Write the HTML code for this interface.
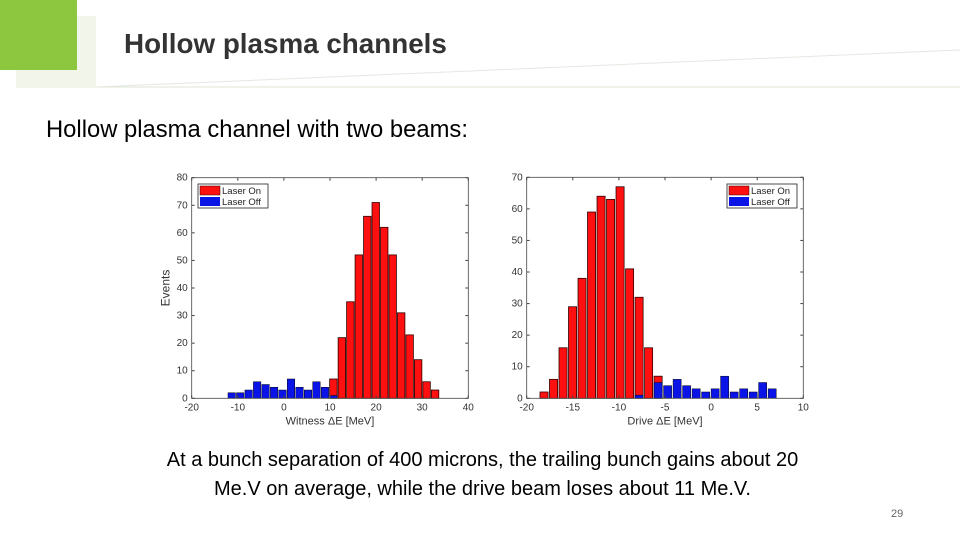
<!DOCTYPE html>
<html><head><meta charset="utf-8"><style>
body{margin:0;width:960px;height:540px;background:#fff;position:relative;overflow:hidden;font-family:"Liberation Sans",sans-serif}
.abs{position:absolute}
</style></head><body>
<div class="abs" style="left:16px;top:16px;width:80px;height:72px;background:#f1f5ea"></div>
<div class="abs" style="left:0;top:0;width:77px;height:70px;background:#8dc63f"></div>
<svg class="abs" style="left:0;top:0" width="960" height="100">
<line x1="96" y1="87" x2="960" y2="87" stroke="#dde6d3" stroke-width="1"/>
<line x1="96" y1="87" x2="960" y2="50" stroke="#e4e8e0" stroke-width="1"/>
</svg>
<div class="abs" style="left:124px;top:28px;font-size:27.8px;font-weight:bold;color:#333">Hollow plasma channels</div>
<div class="abs" style="left:46px;top:116px;font-size:23.8px;color:#000">Hollow plasma channel with two beams:</div>
<svg class="abs" style="left:0;top:0" width="960" height="540" id="charts"></svg>
<div class="abs" style="left:100px;top:446px;width:765px;text-align:center;font-size:20px;line-height:29px;color:#000;white-space:nowrap">At a bunch separation of 400 microns, the trailing bunch gains about 20<br>Me.V on average, while the drive beam loses about 11 Me.V.</div>
<div class="abs" style="left:891px;top:508px;font-size:11px;color:#666">29</div>
<script>
// Left chart (witness)
const leftStart=-11.32, leftStep=1.838;
const leftOn=[0,0,0,0,0,0,0,0,0,0,0,0,7,22,35,52,66,71,62,52,31,23,14,6,3];
const leftOff=[2,2,3,6,5,4,3,7,4,3,6,4,1,0,0,0,0,0,0,0,0,0,0,0,0];
const leftXTicks=[-20,-10,0,10,20,30,40];
const leftYTicks=[0,10,20,30,40,50,60,70,80];
// Right chart (drive)
const rightStart=-18.12, rightStep=1.031;
const rightOn=[2,6,16,29,38,59,64,63,67,41,32,16,7,0,0,0,0,0,0,0,0,0,0,0,0];
const rightOff=[0,0,0,0,0,0,0,0,0,0,1,0,5,4,6,4,3,2,3,7,2,3,2,5,3];
const rightXTicks=[-20,-15,-10,-5,0,5,10];
const rightYTicks=[0,10,20,30,40,50,60,70];

const svg=document.getElementById('charts');
const NS='http://www.w3.org/2000/svg';
function mk(tag,attrs,parent){const e=document.createElementNS(NS,tag);for(const k in attrs)e.setAttribute(k,attrs[k]);(parent||svg).appendChild(e);return e;}

function chart(o){
  const g=mk('g',{});
  
  
  const sx=v=>o.x0+(v-o.xmin)/(o.xmax-o.xmin)*(o.x1-o.x0);
  const sy=v=>o.y0-(v/o.ymax)*(o.y0-o.y1);
  const bw=o.step*(o.x1-o.x0)/(o.xmax-o.xmin)*o.wfrac;
  o.on.forEach((v,i)=>{ if(!v) return; const c=o.start+i*o.step;
    const r=mk('rect',{x:sx(c)-bw/2,y:sy(v),width:bw,height:sy(0)-sy(v),fill:'#ff1010',stroke:'#300',"stroke-width":0.8},g);
    
    });
  o.off.forEach((v,i)=>{ if(!v) return; const c=o.start+i*o.step;
    const r=mk('rect',{x:sx(c)-bw/2,y:sy(v),width:bw,height:sy(0)-sy(v),fill:'#0a14e6',stroke:'#001',"stroke-width":0.5},g);
    
    });
  mk('rect',{x:o.x0,y:o.y1,width:o.x1-o.x0,height:o.y0-o.y1,fill:'none',stroke:'#444',"stroke-width":0.8},g);
  o.xt.forEach(t=>{const x=sx(t);
    mk('line',{x1:x,y1:o.y0,x2:x,y2:o.y0-3,stroke:'#444'},g);mk('line',{x1:x,y1:o.y1,x2:x,y2:o.y1+3,stroke:'#444'},g);
    const tx=mk('text',{x:x,y:o.y0+12,"text-anchor":"middle","font-size":10,fill:'#333'},g);tx.textContent=t;
    
    });
  o.yt.forEach(t=>{const y=sy(t);
    mk('line',{x1:o.x0,y1:y,x2:o.x0+3,y2:y,stroke:'#444'},g);mk('line',{x1:o.x1,y1:y,x2:o.x1-3,y2:y,stroke:'#444'},g);
    const tx=mk('text',{x:o.x0-4,y:y+3,"text-anchor":"end","font-size":10,fill:'#333'},g);tx.textContent=t;
    
    });
  const xl=mk('text',{x:(o.x0+o.x1)/2,y:o.y0+26,"text-anchor":"middle","font-size":11,fill:'#333'},g);xl.textContent=o.xlabel;
  
  
  if(o.ylabel){const yl=mk('text',{x:0,y:0,transform:`translate(${o.x0-22},${(o.y0+o.y1)/2}) rotate(-90)`,"text-anchor":"middle","font-size":12,fill:'#333'},g);yl.textContent=o.ylabel;
    
    }
  const lg=mk('g',{},g);
  
  
  mk('rect',{x:o.lx,y:o.ly,width:70,height:24,fill:'#fff',stroke:'#222',"stroke-width":0.8},lg);
  mk('rect',{x:o.lx+2,y:o.ly+2,width:20,height:9,fill:'#ff1010',stroke:'#300',"stroke-width":0.5},lg);
  mk('rect',{x:o.lx+2,y:o.ly+13,width:20,height:9,fill:'#0a14e6'},lg);
  const t1=mk('text',{x:o.lx+24,y:o.ly+10,"font-size":9.5,fill:'#222'},lg);t1.textContent='Laser On';
  const t2=mk('text',{x:o.lx+24,y:o.ly+21,"font-size":9.5,fill:'#222'},lg);t2.textContent='Laser Off';
}
chart({name:'witness-histogram',x0:191.7,x1:468.3,y0:398.3,y1:177.7,xmin:-20,xmax:40,ymax:80,start:leftStart,step:leftStep,wfrac:0.88,on:leftOn,off:leftOff,xt:leftXTicks,yt:leftYTicks,xlabel:'Witness ΔE [MeV]',ylabel:'Events',lx:198,ly:184});
chart({name:'drive-histogram',x0:526.7,x1:803.3,y0:398.3,y1:177.3,xmin:-20,xmax:10,ymax:70,start:rightStart,step:rightStep,wfrac:0.85,on:rightOn,off:rightOff,xt:rightXTicks,yt:rightYTicks,xlabel:'Drive ΔE [MeV]',ylabel:'',lx:727,ly:184});
</script>
</body></html>
